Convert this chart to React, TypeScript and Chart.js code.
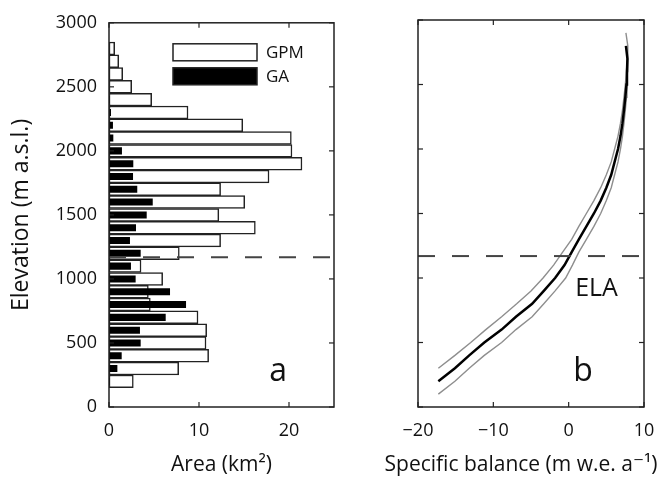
import React, { useEffect, useRef } from 'react';
import { Chart, registerables } from 'chart.js';

Chart.register(...registerables);

const FONT = '"Open Sans", "DejaVu Sans", sans-serif';

// Elevation bands (m a.s.l.), band centres
const elevations = [200, 300, 400, 500, 600, 700, 800, 900, 1000, 1100, 1200, 1300, 1400, 1500, 1600, 1700, 1800, 1900, 2000, 2100, 2200, 2300, 2400, 2500, 2600, 2700, 2800];
// Area per band (km2)
const gpmArea = [2.7, 7.74, 11.07, 10.78, 10.85, 9.89, 4.59, 4.37, 5.96, 3.56, 7.81, 12.4, 16.26, 12.2, 15.08, 12.4, 17.78, 21.44, 20.33, 20.26, 14.86, 8.78, 4.74, 2.52, 1.52, 1.08, 0.63];
const gaArea = [0.11, 0.93, 1.41, 3.52, 3.44, 6.3, 8.56, 6.78, 2.96, 2.44, 3.52, 2.33, 3.0, 4.19, 4.86, 3.14, 2.67, 2.7, 1.44, 0.48, 0.44, 0.22, 0.1, 0, 0, 0, 0];

// Specific balance profile (m w.e. a-1)
const balance = [-17.3, -15.1, -13.2, -11.2, -8.9, -7.0, -4.85, -3.3, -1.8, -0.55, 0.4, 1.35, 2.35, 3.35, 4.25, 5.0, 5.65, 6.1, 6.55, 6.88, 7.14, 7.34, 7.52, 7.67, 7.74, 7.8, 7.6];
// Uncertainty envelope (grey lines)
const upperElev = [300, 400, 500, 600, 700, 800, 900, 1000, 1100, 1200, 1300, 1400, 1500, 1600, 1700, 1800, 1900, 2000, 2100, 2200, 2300, 2400, 2500, 2600, 2700, 2800, 2900];
const upperBalance = [-17.3, -15.1, -13.0, -11.0, -8.9, -6.9, -5.0, -3.4, -2.0, -0.8, 0.4, 1.35, 2.35, 3.35, 4.25, 5.0, 5.65, 6.1, 6.55, 6.88, 7.14, 7.34, 7.52, 7.67, 7.78, 7.85, 7.6];
const lowerElev = [100, 200, 300, 400, 500, 600, 700, 800, 900, 1000, 1100, 1200, 1300, 1400, 1500, 1600, 1700, 1800, 1900, 2000, 2100, 2200, 2300, 2400, 2500, 2600, 2700];
const lowerBalance = [-17.3, -15.1, -13.2, -11.2, -8.9, -7.0, -4.85, -3.3, -1.8, -0.4, 0.5, 1.35, 2.35, 3.35, 4.25, 5.0, 5.65, 6.1, 6.55, 6.88, 7.14, 7.34, 7.52, 7.67, 7.74, 7.8, 7.85];

const ELA = 1170;

const elevTicks = [0, 500, 1000, 1500, 2000, 2500, 3000];
const areaTicks = [0, 10, 20];
const balanceTicks = [-20, -10, 0, 10];

const TICK_FONT = { family: FONT, size: 18 };
const XTITLE_FONT = { family: FONT, size: 21 };
const YTITLE_FONT = { family: FONT, size: 23 };
const INK = '#111';

function framePlugin(id: string) {
  return {
    id,
    afterDatasetsDraw(chart: any) {
      const { ctx, chartArea: a, scales } = chart;
      const y = scales.y.getPixelForValue(ELA);
      ctx.save();
      ctx.beginPath();
      ctx.rect(a.left, a.top, a.right - a.left, a.bottom - a.top);
      ctx.clip();
      ctx.strokeStyle = '#444';
      ctx.lineWidth = 2;
      ctx.setLineDash([17, 17]);
      ctx.beginPath();
      ctx.moveTo(a.left, y);
      ctx.lineTo(a.right, y);
      ctx.stroke();
      ctx.restore();
    },
    afterDraw(chart: any) {
      const { ctx, chartArea: a, scales } = chart;
      ctx.save();
      ctx.strokeStyle = '#222';
      ctx.lineWidth = 1.5;
      ctx.strokeRect(a.left, a.top, a.right - a.left, a.bottom - a.top);
      ctx.lineWidth = 1.2;
      const tl = 5;
      const seg = (x1: number, y1: number, x2: number, y2: number) => {
        ctx.beginPath();
        ctx.moveTo(x1, y1);
        ctx.lineTo(x2, y2);
        ctx.stroke();
      };
      scales.x.ticks.forEach((t: any) => {
        const px = scales.x.getPixelForValue(t.value);
        seg(px, a.bottom, px, a.bottom - tl);
        seg(px, a.top, px, a.top + tl);
      });
      scales.y.ticks.forEach((t: any) => {
        const py = scales.y.getPixelForValue(t.value);
        seg(a.left, py, a.left + tl, py);
        seg(a.right, py, a.right - tl, py);
      });
      ctx.restore();
    },
  };
}

function textPlugin(id: string, items: { text: string; x: number; y: number; size: number }[]) {
  return {
    id,
    afterDraw(chart: any) {
      const { ctx, scales } = chart;
      ctx.save();
      ctx.fillStyle = INK;
      ctx.textAlign = 'center';
      ctx.textBaseline = 'alphabetic';
      items.forEach((it) => {
        ctx.font = `${it.size}px ${FONT}`;
        ctx.fillText(it.text, scales.x.getPixelForValue(it.x), scales.y.getPixelForValue(it.y));
      });
      ctx.restore();
    },
  };
}

// Axis title drawn without the scale-width limit (the label is wider than the plot)
function wideTitlePlugin(text: string, size: number, dx: number, bottomOffset: number) {
  return {
    id: 'wideTitle',
    afterDraw(chart: any) {
      const { ctx, chartArea: a } = chart;
      ctx.save();
      ctx.fillStyle = INK;
      ctx.font = `${size}px ${FONT}`;
      ctx.textAlign = 'center';
      ctx.textBaseline = 'middle';
      ctx.fillText(text, (a.left + a.right) / 2 + dx, chart.height - bottomOffset);
      ctx.restore();
    },
  };
}

const legendPlugin = {
  id: 'boxLegend',
  afterDraw(chart: any) {
    const { ctx, chartArea: a } = chart;
    const x0 = a.left + 64;
    const w = 84;
    const entries = [
      { label: 'GPM', fill: '#fff', top: a.top + 21 },
      { label: 'GA', fill: '#000', top: a.top + 45 },
    ];
    ctx.save();
    entries.forEach((e) => {
      ctx.fillStyle = e.fill;
      ctx.fillRect(x0, e.top, w, 17);
      ctx.strokeStyle = '#222';
      ctx.lineWidth = 1.5;
      ctx.strokeRect(x0, e.top, w, 17);
      ctx.fillStyle = INK;
      ctx.font = `17px ${FONT}`;
      ctx.textAlign = 'left';
      ctx.textBaseline = 'middle';
      ctx.fillText(e.label, x0 + w + 9, e.top + 9);
    });
    ctx.restore();
  },
};

const plainFmt = (v: any) => String(v).replace('-', '\u2212');

export default function App() {
  const leftRef = useRef<HTMLCanvasElement>(null);
  const rightRef = useRef<HTMLCanvasElement>(null);

  useEffect(() => {
    const c1 = new Chart(leftRef.current as HTMLCanvasElement, {
      type: 'bar',
      data: {
        datasets: [
          {
            label: 'GA',
            data: elevations.map((e, i) => ({ x: gaArea[i], y: e })),
            backgroundColor: '#000',
            borderWidth: 0,
            barPercentage: 0.55,
            categoryPercentage: 1,
            grouped: false,
            order: 0,
          } as any,
          {
            label: 'GPM',
            data: elevations.map((e, i) => ({ x: gpmArea[i], y: e })),
            backgroundColor: '#fff',
            borderColor: '#222',
            borderWidth: 1.5,
            borderSkipped: false,
            barPercentage: 1,
            categoryPercentage: 1,
            grouped: false,
            order: 1,
          } as any,
        ],
      },
      options: {
        indexAxis: 'y',
        animation: false,
        responsive: false,
        devicePixelRatio: 1,
        layout: { padding: { top: 20, right: 26, left: 0, bottom: 0 } },
        plugins: { legend: { display: false }, tooltip: { enabled: false } },
        scales: {
          x: {
            type: 'linear',
            min: 0,
            max: 25,
            grid: { display: false, drawTicks: false },
            border: { display: false },
            afterBuildTicks: (s: any) => { s.ticks = areaTicks.map((v) => ({ value: v })); },
            afterFit: (s: any) => { s.height = 75; },
            ticks: { font: TICK_FONT, color: INK, padding: 13, maxRotation: 0, callback: plainFmt },
            title: { display: true, text: 'Area (km\u00B2)', font: XTITLE_FONT, color: INK, padding: { top: 0, bottom: 4.5 } },
          },
          y: {
            type: 'linear',
            min: 0,
            max: 3000,
            offset: false,
            grid: { display: false, drawTicks: false, offset: false },
            border: { display: false },
            afterBuildTicks: (s: any) => { s.ticks = elevTicks.map((v) => ({ value: v })); },
            afterFit: (s: any) => { s.width = 109; },
            ticks: { font: TICK_FONT, color: INK, padding: 12, callback: plainFmt },
            title: { display: true, text: 'Elevation (m a.s.l.)', font: YTITLE_FONT, color: INK, padding: { top: 8, bottom: 0 } },
          },
        },
      } as any,
      plugins: [framePlugin('frameA'), legendPlugin, textPlugin('txtA', [{ text: 'a', x: 18.8, y: 200, size: 32 }])],
    });

    const c2 = new Chart(rightRef.current as HTMLCanvasElement, {
      type: 'scatter',
      data: {
        datasets: [
          {
            label: 'Specific balance',
            data: elevations.map((e, i) => ({ x: balance[i], y: e })),
            showLine: true,
            borderColor: '#000',
            borderWidth: 2.5,
            pointRadius: 0,
            order: 0,
          },
          {
            label: 'Upper',
            data: upperElev.map((e, i) => ({ x: upperBalance[i], y: e })),
            showLine: true,
            borderColor: '#8e8e8e',
            borderWidth: 1.4,
            pointRadius: 0,
            order: 1,
          },
          {
            label: 'Lower',
            data: lowerElev.map((e, i) => ({ x: lowerBalance[i], y: e })),
            showLine: true,
            borderColor: '#8e8e8e',
            borderWidth: 1.4,
            pointRadius: 0,
            order: 1,
          },
        ],
      },
      options: {
        animation: false,
        responsive: false,
        devicePixelRatio: 1,
        layout: { padding: { top: 20, right: 25, left: 0, bottom: 0 } },
        plugins: { legend: { display: false }, tooltip: { enabled: false } },
        scales: {
          x: {
            type: 'linear',
            min: -20,
            max: 10,
            grid: { display: false, drawTicks: false },
            border: { display: false },
            afterBuildTicks: (s: any) => { s.ticks = balanceTicks.map((v) => ({ value: v })); },
            afterFit: (s: any) => { s.height = 75; },
            ticks: { font: TICK_FONT, color: INK, padding: 13, maxRotation: 0, callback: plainFmt },
          },
          y: {
            type: 'linear',
            min: 0,
            max: 3000,
            grid: { display: false, drawTicks: false },
            border: { display: false },
            afterBuildTicks: (s: any) => { s.ticks = elevTicks.map((v) => ({ value: v })); },
            afterFit: (s: any) => { s.width = 78; },
            ticks: { display: false },
          },
        },
      } as any,
      plugins: [
        framePlugin('frameB'),
        textPlugin('txtB', [
          { text: 'ELA', x: 3.7, y: 860, size: 25 },
          { text: 'b', x: 1.9, y: 200, size: 32 },
        ]),
        wideTitlePlugin('Specific balance (m w.e. a\u207B\u00B9)', 21, -10, 17),
      ],
    });

    return () => {
      c1.destroy();
      c2.destroy();
    };
  }, []);

  return (
    <div style={{ position: 'absolute', left: 0, top: 0, width: 669, height: 482, background: '#fff' }}>
      <canvas ref={leftRef} width={360} height={482} style={{ display: 'block', position: 'absolute', left: 0, top: 0 }} />
      <canvas ref={rightRef} width={329} height={482} style={{ display: 'block', position: 'absolute', left: 340, top: 0 }} />
    </div>
  );
}
